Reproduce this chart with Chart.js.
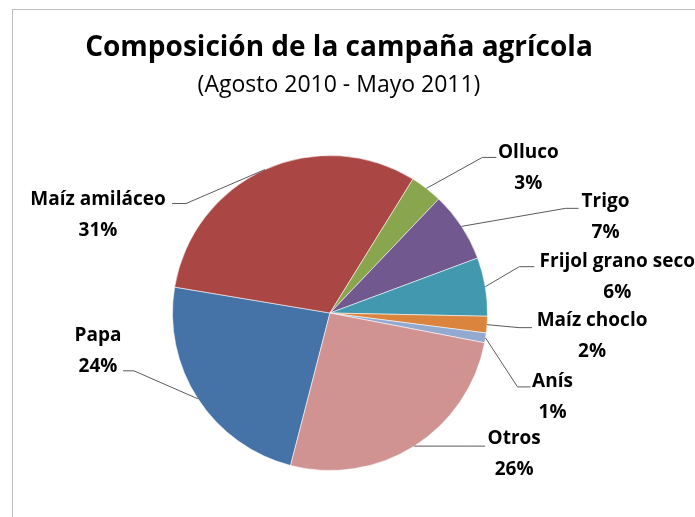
<!DOCTYPE html>
<html><head><meta charset="utf-8">
<script src="https://cdn.jsdelivr.net/npm/chart.js@4.4.0/dist/chart.umd.min.js"></script>
<style>
html,body{margin:0;padding:0;background:#fff;}
#wrap{position:relative;width:695px;height:517px;overflow:hidden;}
#frame{position:absolute;left:12px;top:9px;width:720px;height:540px;border-top:1px solid #BDBDBD;border-left:1px solid #BDBDBD;pointer-events:none;}
canvas{display:block;}
</style></head><body>
<div id="wrap"><canvas id="c" width="695" height="517"></canvas><div id="frame"></div></div>
<script>
// ---- data ----
const categories = ['Papa','Maíz amiláceo','Olluco','Trigo','Frijol grano seco','Maíz choclo','Anís','Otros'];
const values = [23.6, 31.2, 3.3, 7.2, 6.0, 1.7, 1.0, 26.0];
const sliceColors = ['#4572A7','#AA4643','#89A54E','#71588F','#4198AF','#DB843D','#93A9CF','#D19392'];
const titleText = 'Composición de la campaña agrícola';
const subtitleText = '(Agosto 2010 - Mayo 2011)';

// ---- label layout (offsets from each slice's outer mid-point) ----
// ex,ey: elbow offset; hx: horizontal tail; tx: text centre offset; ty: first baseline offset
const labelLayout = [
  {ex:-64, ey:-28, hx:-11, tx:-100, ty:-58},
  {ex:-79, ey:34,  hx:-14, tx:-167, ty:35},
  {ex:56,  ey:-31, hx:14,  tx:102,  ty:-30},
  {ex:104, ey:-18, hx:13,  tx:144,  ty:-19},
  {ex:34,  ey:-20, hx:15,  tx:132,  ty:-20},
  {ex:32,  ey:3,   hx:13,  tx:105,  ty:1},
  {ex:32,  ey:49,  hx:13,  tx:67,   ty:49},
  {ex:56,  ey:0,   hx:15,  tx:100,  ty:-2}
];

const FONT = '"Open Sans", Lato, sans-serif';

const labelsPlugin = {
  id: 'excelLabels',
  afterDatasetsDraw(chart) {
    const ctx = chart.ctx;
    const meta = chart.getDatasetMeta(0);
    const data = chart.data.datasets[0].data;
    const total = data.reduce((a, b) => a + b, 0);
    ctx.save();
    meta.data.forEach((arc, i) => {
      const p = arc.getProps(['x','y','startAngle','endAngle','outerRadius'], true);
      const mid = (p.startAngle + p.endAngle) / 2;
      const ax = p.x + Math.cos(mid) * p.outerRadius;
      const ay = p.y + Math.sin(mid) * p.outerRadius;
      const L = labelLayout[i];
      ctx.strokeStyle = '#5a5a5a';
      ctx.lineWidth = 1;
      ctx.beginPath();
      ctx.moveTo(ax, ay);
      ctx.lineTo(ax + L.ex, ay + L.ey);
      ctx.lineTo(ax + L.ex + L.hx, ay + L.ey);
      ctx.stroke();
      ctx.fillStyle = '#000';
      ctx.font = 'bold 19px ' + FONT;
      ctx.textAlign = 'center';
      ctx.textBaseline = 'alphabetic';
      const pct = Math.round(data[i] / total * 100) + '%';
      ctx.fillText(chart.data.labels[i], ax + L.tx, ay + L.ty);
      ctx.fillText(pct, ax + L.tx, ay + L.ty + 31);
    });
    // titles
    ctx.textAlign = 'center';
    ctx.font = 'bold 28px ' + FONT;
    ctx.fillText(titleText, 339, 56);
    ctx.font = '23px ' + FONT;
    ctx.fillText(subtitleText, 339, 92);
    ctx.restore();
  }
};

new Chart(document.getElementById('c'), {
  type: 'pie',
  data: {
    labels: categories,
    datasets: [{
      data: values,
      backgroundColor: sliceColors,
      borderColor: 'rgba(255,255,255,0.55)',
      borderWidth: 1
    }]
  },
  options: {
    responsive: false,
    animation: false,
    rotation: 194.5,
    layout: { padding: { left: 172, top: 155, right: 207, bottom: 46 } },
    plugins: {
      legend: { display: false },
      title: { display: false },
      tooltip: { enabled: false }
    }
  },
  plugins: [labelsPlugin]
});
</script>
</body></html>
